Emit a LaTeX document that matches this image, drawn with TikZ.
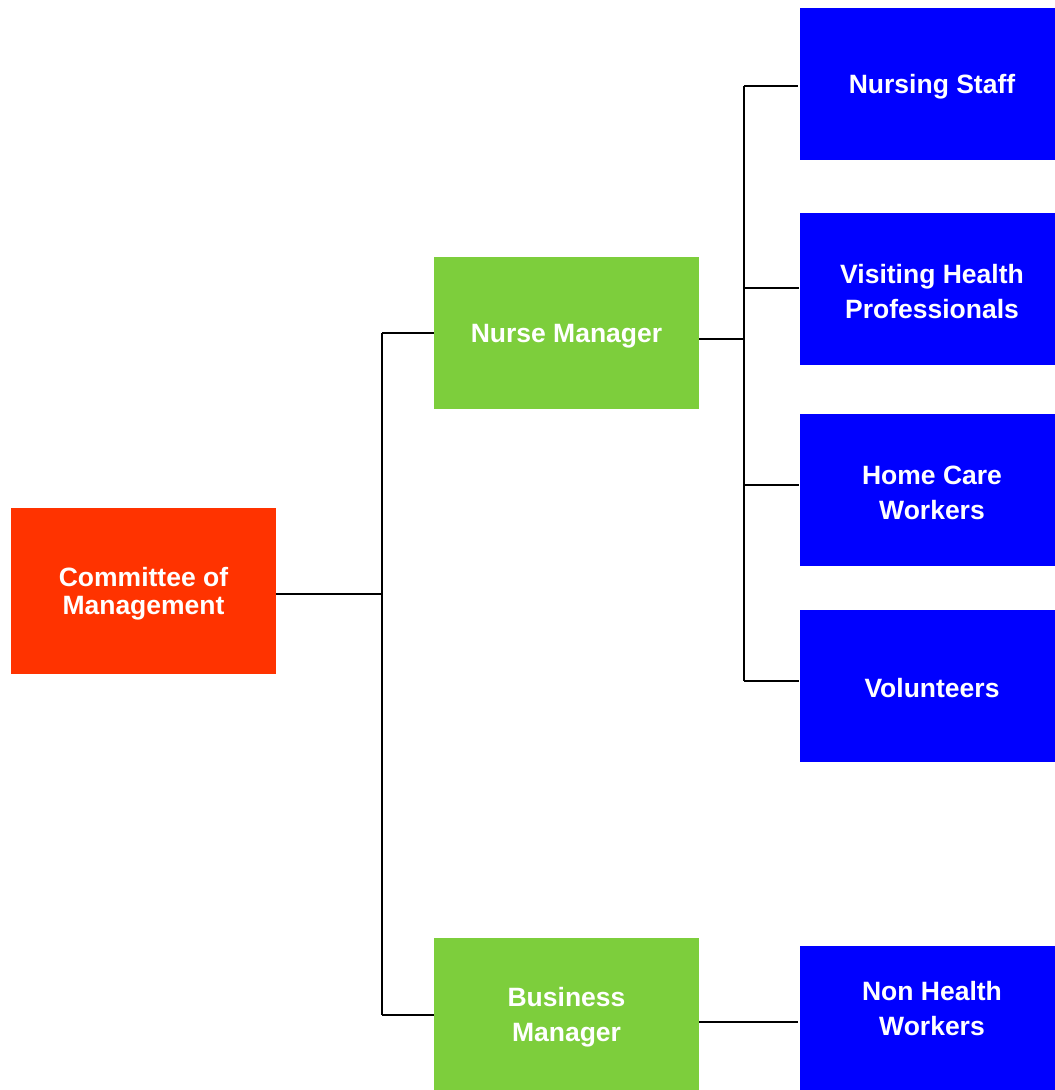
\documentclass[tikz,border=0pt]{standalone}
\usepackage{fontspec}
\setmainfont{Liberation Sans}
\definecolor{mgmtred}{HTML}{FF3300}
\definecolor{mgrgreen}{HTML}{7DCE3C}
\definecolor{staffblue}{HTML}{0000FF}
\begin{document}
\begin{tikzpicture}[x=1pt,y=-1pt,
  box/.style={rectangle, inner sep=0pt, outer sep=0pt},
  mgmt/.style={box, fill=mgmtred, minimum width=265, minimum height=166},
  mgr/.style={box, fill=mgrgreen, minimum width=265, minimum height=152},
  staff/.style={box, fill=staffblue, minimum width=264, minimum height=152},
  lbl/.style={inner sep=0pt, align=center, text=white,
    font=\fontsize{26.5}{35}\selectfont\bfseries},
  tightlbl/.style={lbl, font=\fontsize{26.5}{28}\selectfont\bfseries},
  link/.style={draw=black, line width=1.6pt}]
\useasboundingbox (0,0) rectangle (1055,1090);
\clip (0,0) rectangle (1055,1090);

% boxes
\node[mgmt] (com) at (143.5,591) {};
\node[mgr] (nm) at (566.5,333) {};
\node[mgr] (bm) at (566.5,1014) {};
\node[staff] (ns) at (932,84) {};
\node[staff] (vh) at (932,289) {};
\node[staff] (hc) at (932,490) {};
\node[staff] (vo) at (932,686) {};
\node[staff, minimum height=160] (nh) at (932,1026) {};

% box texts
\node[tightlbl] (comtext) at (143.5,593.5) {Committee of\\Management};
\node[lbl] (nmtext) at (566.5,336) {Nurse Manager};
\node[lbl] (bmtext) at (566.5,1017) {Business\\Manager};
\node[lbl] (nstext) at (932,87) {Nursing Staff};
\node[lbl] (vhtext) at (932,292) {Visiting Health\\Professionals};
\node[lbl] (hctext) at (932,493) {Home Care\\Workers};
\node[lbl] (votext) at (932,688) {Volunteers};
\node[lbl] (nhtext) at (932,1009) {Non Health\\Workers};

% junction points
\coordinate (j1) at (382,594);
\coordinate (j1t) at (382,333);
\coordinate (j1b) at (382,1015);
\coordinate (j2) at (744,339);
\coordinate (j2a) at (744,86);
\coordinate (j2b) at (744,288);
\coordinate (j2c) at (744,485);
\coordinate (j2d) at (744,681);

% connectors
\draw[link] (com.east |- j1) -- (j1);
\draw[link] (j1t) -- (j1b);
\draw[link] (j1t) -- (nm.west |- j1t);
\draw[link] (j1b) -- (bm.west |- j1b);
\draw[link] (nm.east |- j2) -- (j2);
\draw[link] (j2a) -- (j2d);
\draw[link] (j2a) -- ([xshift=-2pt]ns.west |- j2a);
\draw[link] (j2b) -- ([xshift=-1pt]vh.west |- j2b);
\draw[link] (j2c) -- ([xshift=-1pt]hc.west |- j2c);
\draw[link] (j2d) -- ([xshift=-1pt]vo.west |- j2d);
\draw[link] (bm.east |- 0,1022) -- ([xshift=-2pt]nh.west |- 0,1022);
\end{tikzpicture}
\end{document}
